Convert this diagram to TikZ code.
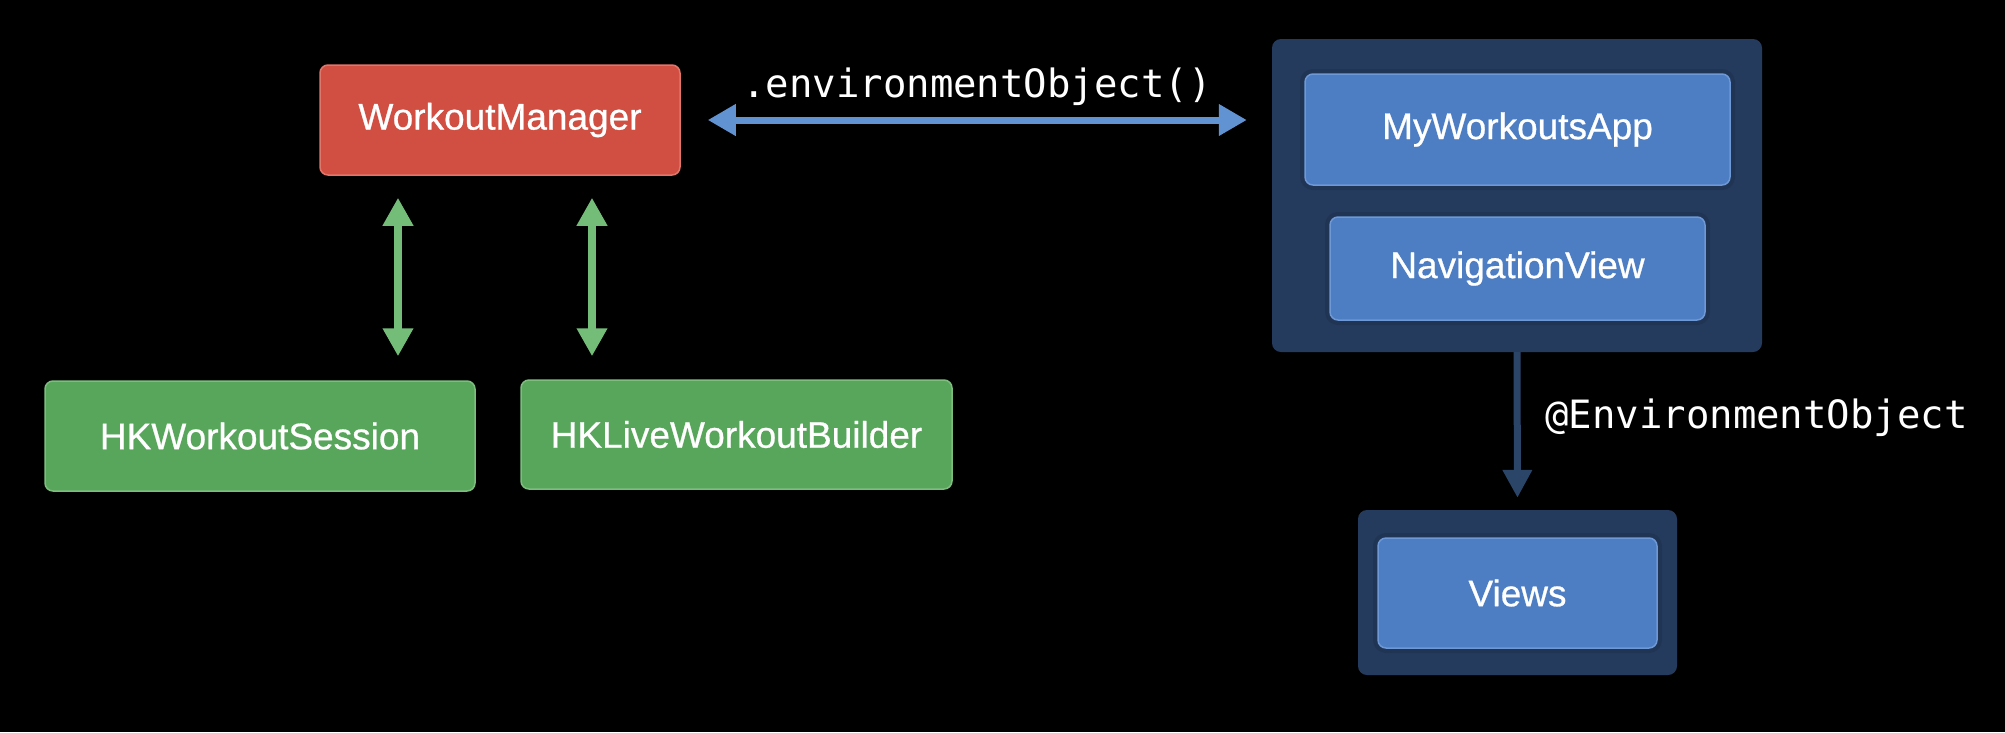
\documentclass[tikz,border=0pt]{standalone}
\usepackage{fontspec}
\setmainfont{Liberation Sans}
\newfontfamily\boxfont[FakeBold=0.7]{Liberation Sans}
\newfontfamily\codefont{DejaVu Sans Mono}
\usetikzlibrary{arrows.meta,calc}
\definecolor{wmred}{HTML}{D14F42}
\definecolor{wmredline}{HTML}{E2766A}
\definecolor{hkgreen}{HTML}{58A65B}
\definecolor{hkgreenline}{HTML}{7DBE7E}
\definecolor{garrowc}{HTML}{74BD79}
\definecolor{appblue}{HTML}{4D7DC2}
\definecolor{appblueline}{HTML}{6E98D6}
\definecolor{contblue}{HTML}{253B5E}
\definecolor{shadowblue}{HTML}{1D2F4C}
\definecolor{harrowc}{HTML}{6192D1}
\definecolor{darrowc}{HTML}{2B4569}
\begin{document}
\begin{tikzpicture}[x=1pt,y=-1pt,
  box/.style={draw, line width=1.5pt, rounded corners=8pt, text=white,
    font=\boxfont\fontsize{37}{44}\selectfont, inner sep=0pt},
  redbox/.style={box, fill=wmred, draw=wmredline},
  greenbox/.style={box, fill=hkgreen, draw=hkgreenline},
  bluebox/.style={box, fill=appblue, draw=appblueline,
    preaction={draw=shadowblue, line width=10pt, opacity=0.5}},
  container/.style={fill=contblue, rounded corners=9pt, inner sep=0pt},
  code/.style={text=white, font=\codefont\fontsize{39}{46}\selectfont, inner sep=0pt},
  garrow/.style={draw=garrowc, line width=8pt,
    {Triangle[length=28pt,width=29pt]}-{Triangle[length=28pt,width=29pt]}},
  harrow/.style={draw=harrowc, line width=7pt,
    {Triangle[length=28pt,width=30pt]}-{Triangle[length=28pt,width=30pt]}},
  darrow/.style={draw=darrowc, line width=7pt, -{Triangle[length=28pt,width=28pt]}}
]
\fill[black] (0,0) rectangle (2005,732);
\useasboundingbox (0,0) rectangle (2005,732);

% left part
\node[redbox, minimum width=360pt, minimum height=110pt] (wm) at (500,120) {WorkoutManager};
\node[greenbox, minimum width=430pt, minimum height=110pt] (hks) at (260,436) {HKWorkoutSession};
\node[greenbox, minimum width=431pt, minimum height=109pt] (hkl) at (736.5,434.5) {HKLiveWorkoutBuilder};

% right part
\node[container, minimum width=490pt, minimum height=313pt] (cont) at (1517,195.5) {};
\node[bluebox, minimum width=425pt, minimum height=111pt] (app) at (1517.5,129.5) {MyWorkoutsApp};
\node[bluebox, minimum width=375pt, minimum height=103pt] (nav) at (1517.5,268.5) {NavigationView};
\node[container, minimum width=319pt, minimum height=165pt] (vcont) at (1517.5,592.5) {};
\node[bluebox, minimum width=279pt, minimum height=110pt] (views) at (1517.5,593) {Views};

% connectors
\draw[garrow, shorten <=22pt, shorten >=24pt] ([xshift=-102pt]wm.south) -- ([xshift=-102pt]wm.south |- hks.north);
\draw[garrow, shorten <=22pt, shorten >=23pt] ([xshift=92pt]wm.south) -- ([xshift=92pt]wm.south |- hkl.north);
\draw[harrow, shorten <=27pt, shorten >=25pt] (wm.east) -- (wm.east -| cont.west);
\draw[darrow, shorten >=12pt] (cont.south) -- (vcont.north);

% labels
\node[code, anchor=base] (envlbl) at (977,97) {.environmentObject()};
\node[code, anchor=base west] (eolbl) at (1545,428) {@EnvironmentObject};
\end{tikzpicture}
\end{document}
